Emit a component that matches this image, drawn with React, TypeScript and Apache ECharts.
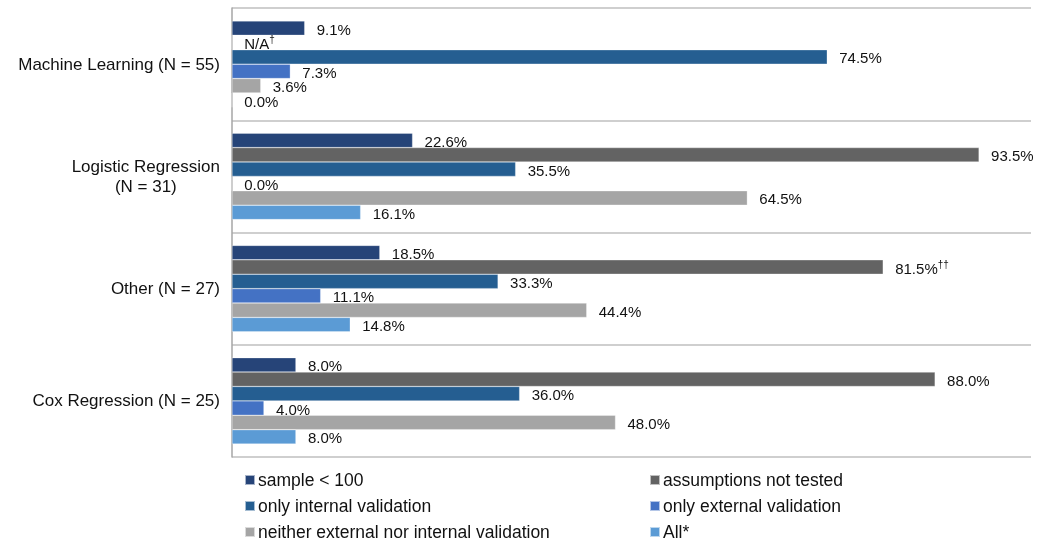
import React, { useEffect, useRef } from "react";
import * as echarts from "echarts";

const categories = [
  "Machine Learning (N = 55)",
  "Logistic Regression\n(N = 31)",
  "Other (N = 27)",
  "Cox Regression (N = 25)",
];

const seriesNames = [
  "sample < 100",
  "assumptions not tested",
  "only internal validation",
  "only external validation",
  "neither external nor internal validation",
  "All*",
];

const sampleLt100 = [9.1, 22.6, 18.5, 8.0];
const assumptionsNotTested: (number | null)[] = [null, 93.5, 81.5, 88.0];
const onlyInternal = [74.5, 35.5, 33.3, 36.0];
const onlyExternal = [7.3, 0.0, 11.1, 4.0];
const neither = [3.6, 64.5, 44.4, 48.0];
const allStar = [0.0, 16.1, 14.8, 8.0];

// footnote marks appended to labels: [seriesIndex, categoryIndex, mark]
const footnotes: [number, number, string][] = [
  [1, 0, "†"],
  [1, 2, "††"],
];

const colors = ["#264478", "#636363", "#255e91", "#4472c4", "#a5a5a5", "#5b9bd5"];

const FONT = "Arial, 'Liberation Sans', sans-serif";

export default function App() {
  const ref = useRef<HTMLDivElement>(null);
  useEffect(() => {
    if (!ref.current) return;
    const chart = echarts.init(ref.current, undefined, { renderer: "svg" });
    const allData = [sampleLt100, assumptionsNotTested, onlyInternal, onlyExternal, neither, allStar];

    const series = allData.map((arr, si) => ({
      name: seriesNames[si],
      type: "bar",
      barGap: "0%",
      barCategoryGap: "23%",
      itemStyle: { color: colors[si], borderColor: "rgba(255,255,255,0.6)", borderWidth: 0.5 },
      label: {
        show: true,
        position: "right",
        distance: 12,
        color: "#111",
        fontSize: 15,
        fontFamily: FONT,
        offset: [0, 1],
        formatter: (p: any) => {
          const note = footnotes.find((f) => f[0] === si && f[1] === p.dataIndex);
          const raw = arr[p.dataIndex];
          const base = raw === null ? "N/A" : `${(raw as number).toFixed(1)}%`;
          return note ? `{b|${base}}{s|${note[2]}}` : base;
        },
        rich: {
          b: { fontSize: 15, fontFamily: FONT, color: "#111" },
          s: { fontSize: 10, fontFamily: FONT, color: "#111", padding: [0, 0, 8, 0] },
        },
      },
      data: arr.map((v) => (v === null ? 0 : v)),
    }));

    const legendCommon = {
      orient: "vertical",
      top: 471,
      padding: 0,
      itemWidth: 10,
      itemHeight: 10,
      itemGap: 8,
      icon: "rect",
      textStyle: { fontSize: 17.5, fontFamily: FONT, color: "#111", lineHeight: 18, padding: [0, 0, 0, -2] },
    };

    chart.setOption({
      animation: false,
      grid: { left: 232, right: 6, top: 8, bottom: 87, containLabel: false },
      xAxis: {
        type: "value",
        min: 0,
        max: 100,
        axisLine: { show: false },
        axisTick: { show: false },
        axisLabel: { show: false },
        splitLine: { show: false },
      },
      yAxis: {
        type: "category",
        inverse: true,
        data: categories,
        axisLine: { show: true, lineStyle: { color: "#a6a6a6", width: 1.5 } },
        axisTick: { show: false },
        splitLine: { show: true, lineStyle: { color: "#bfbfbf", width: 1.5 } },
        axisLabel: {
          margin: 12,
          color: "#111",
          fontSize: 17,
          fontFamily: FONT,
          lineHeight: 20,
          formatter: (v: string) =>
            v.includes("\n") ? v.split("\n").map((l) => `{c|${l}}`).join("\n") : v,
          rich: {
            c: { align: "center", fontSize: 17, fontFamily: FONT, color: "#111", lineHeight: 20 },
          },
        },
      },
      legend: [
        { ...legendCommon, left: 244, data: [seriesNames[0], seriesNames[2], seriesNames[4]] },
        { ...legendCommon, left: 649, data: [seriesNames[1], seriesNames[3], seriesNames[5]] },
      ],
      series,
    });
    return () => chart.dispose();
  }, []);
  return (
    <div
      ref={ref}
      style={{ position: "fixed", left: 0, top: 0, width: 1037, height: 544 }}
    />
  );
}
